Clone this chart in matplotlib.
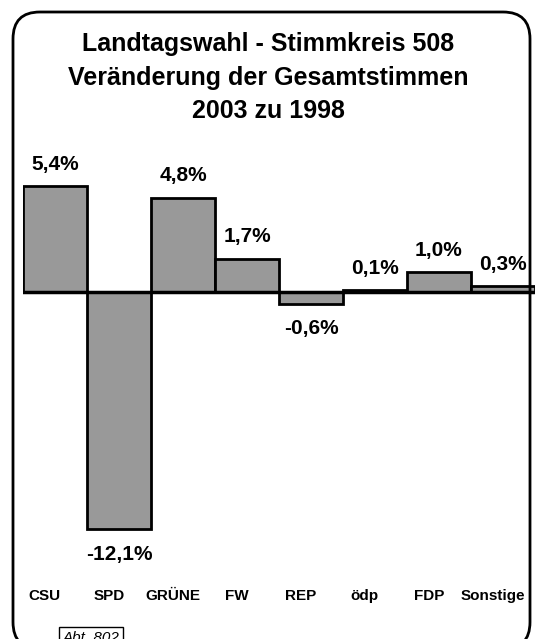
import matplotlib
matplotlib.use("Agg")
import matplotlib.pyplot as plt
from matplotlib.patches import FancyBboxPatch

plt.rcParams['font.family'] = ['Liberation Sans', 'DejaVu Sans']

parties = ["CSU", "SPD", "GRÜNE", "FW", "REP", "ödp", "FDP", "Sonstige"]
changes = [5.4, -12.1, 4.8, 1.7, -0.6, 0.1, 1.0, 0.3]
value_labels = ["5,4%", "-12,1%", "4,8%", "1,7%", "-0,6%", "0,1%", "1,0%", "0,3%"]

W, H = 538, 639
fig = plt.figure(figsize=(W/100, H/100), dpi=100)

# rounded border
border = FancyBboxPatch((13/W, -10/H), (530-13)/W, (H-12+10)/H,
                        boxstyle="round,pad=0,rounding_size=0.05",
                        transform=fig.transFigure, fill=False, edgecolor="black",
                        linewidth=2.0, mutation_aspect=W/H)
fig.patches.append(border)

# axes: x 23..535, y 150..560 px
ax_top, ax_bot = 150, 560
ax = fig.add_axes([23/W, 1-ax_bot/H, (535-23)/W, (ax_bot-ax_top)/H])
zero_px = 292
scale = 19.6
ax.set_ylim(-(ax_bot-zero_px)/scale, (zero_px-ax_top)/scale)
ax.set_xlim(-0.5, len(parties)-0.5)
ax.axis("off")

x = range(len(parties))
ax.bar(x, changes, width=1.0, color="#999999", edgecolor="black", linewidth=2.0, zorder=2)
ax.axhline(0, color="black", linewidth=2.5, zorder=3)

for i, (v, lab) in enumerate(zip(changes, value_labels)):
    if v >= 0:
        ax.annotate(lab, (i, v), xytext=(0, 22*0.72), textcoords="offset points",
                    ha="center", va="center", fontsize=15, fontweight="bold")
    else:
        ax.annotate(lab, (i, v), xytext=(0, -25*0.72), textcoords="offset points",
                    ha="center", va="center", fontsize=15, fontweight="bold")

for i, p in enumerate(parties):
    ax.text(i - 0.16, -(596-zero_px)/scale, p, ha="center", va="center",
            fontsize=11, fontweight="bold")

# title
for ypx, line in [(44, "Landtagswahl - Stimmkreis 508"),
                  (78, "Veränderung der Gesamtstimmen"),
                  (111, "2003 zu 1998")]:
    fig.text(268/W, 1-ypx/H, line, ha="center", va="center",
             fontsize=18, fontweight="bold")

# Abt. 802 box
fig.text(91/W, 1-638/H, "Abt. 802", ha="center", va="center", fontsize=11,
         style="italic", bbox=dict(boxstyle="square,pad=0.25", fc="white", ec="black", lw=1))

fig.savefig("out.png", dpi=100)
